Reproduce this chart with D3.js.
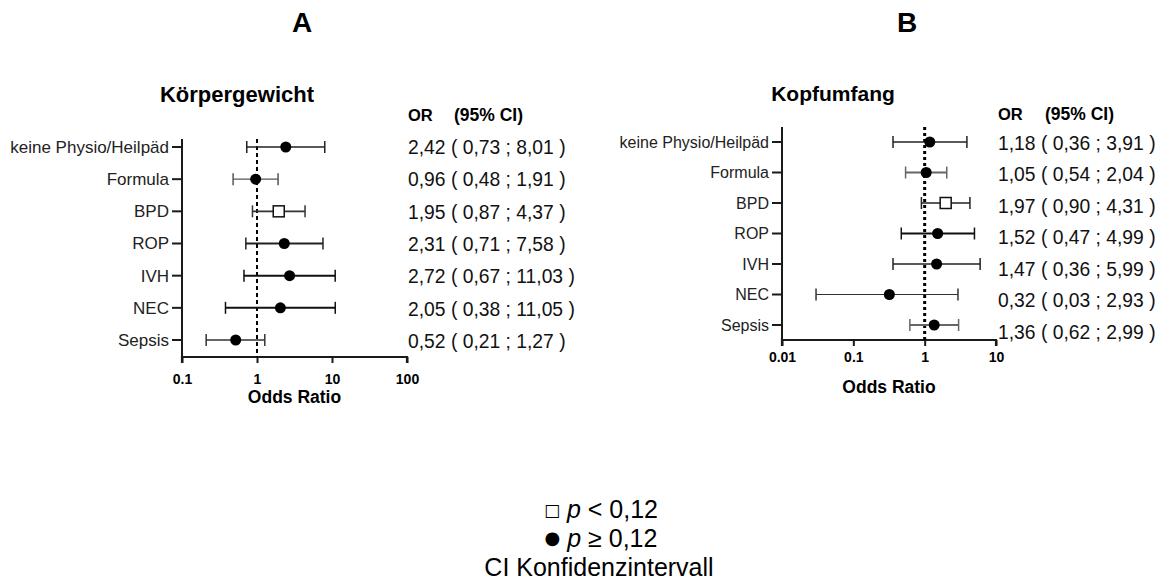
<!DOCTYPE html>
<html><head><meta charset="utf-8">
<script src="https://cdn.jsdelivr.net/npm/d3@7"></script>
<style>html,body{margin:0;padding:0;background:#fff;}svg{display:block;font-family:"Liberation Sans",Arial,sans-serif;}</style>
</head><body>
<svg id="c" width="1168" height="585"></svg>
<script>
const categories = ["keine Physio/Heilpäd","Formula","BPD","ROP","IVH","NEC","Sepsis"];
// Panel A: Körpergewicht
const orA  = [2.42,0.96,1.95,2.31,2.72,2.05,0.52];
const loA  = [0.73,0.48,0.87,0.71,0.67,0.38,0.21];
const hiA  = [8.01,1.91,4.37,7.58,11.03,11.05,1.27];
const sigA = [false,false,true,false,false,false,false];
// Panel B: Kopfumfang
const orB  = [1.18,1.05,1.97,1.52,1.47,0.32,1.36];
const loB  = [0.36,0.54,0.90,0.47,0.36,0.03,0.62];
const hiB  = [3.91,2.04,4.31,4.99,5.99,2.93,2.99];
const sigB = [false,false,true,false,false,false,false];
const ticksA = [0.1,1,10,100];
const ticksB = [0.01,0.1,1,10];
const tickLabelsA = ["0.1","1","10","100"];
const tickLabelsB = ["0.01","0.1","1","10"];

const fmt = v => v.toFixed(2).replace(".", ",");
const svg = d3.select("#c");

function panel(cfg){
  const g = svg.append("g");
  const x = d3.scaleLog().domain(cfg.dom).range([cfg.x0, cfg.x1]);
  const y = d3.scalePoint().domain(categories).range([cfg.yr0, cfg.yr1]);
  const yt = d3.scalePoint().domain(categories).range([cfg.ty0, cfg.ty1]);
  const stroke = "#1a1a1a";
  // title
  g.append("text").attr("x", cfg.titleX).attr("y", cfg.titleY).attr("text-anchor","middle")
    .attr("font-weight","bold").attr("font-size",cfg.titleSize).text(cfg.title);
  // y axis
  g.append("line").attr("x1",cfg.x0).attr("x2",cfg.x0).attr("y1",cfg.yTop).attr("y2",cfg.yAxis)
    .attr("stroke",stroke).attr("stroke-width",2);
  categories.forEach(c=>{
    g.append("line").attr("x1",cfg.x0-10).attr("x2",cfg.x0).attr("y1",y(c)).attr("y2",y(c))
      .attr("stroke",stroke).attr("stroke-width",2);
    g.append("text").attr("x",cfg.x0-13).attr("y",y(c)).attr("dy","0.35em").attr("text-anchor","end")
      .attr("font-size",cfg.labelSize).attr("fill","#222").text(c);
  });
  // x axis
  const xa = g.append("g").attr("transform",`translate(0,${cfg.yAxis})`)
    .call(d3.axisBottom(x).tickValues(cfg.ticks).tickSize(6).tickFormat((d,i)=>cfg.tickLabels[i]));
  xa.select(".domain").attr("stroke",stroke).attr("stroke-width",2.2).attr("d",`M${cfg.x0},6V0H${cfg.x1}V6`);
  xa.selectAll(".tick line").attr("stroke",stroke).attr("stroke-width",2);
  xa.selectAll(".tick text").attr("font-size",14).attr("font-weight","bold").attr("fill","#000")
    .attr("font-family",'"Liberation Sans",Arial,sans-serif').attr("dy",cfg.tickDy);
  g.append("text").attr("x",(cfg.x0+cfg.x1)/2).attr("y",cfg.xTitleY).attr("text-anchor","middle")
    .attr("font-weight","bold").attr("font-size",17.5).text("Odds Ratio");
  // reference line
  g.append("line").attr("x1",x(1)).attr("x2",x(1)).attr("y1",cfg.yTop).attr("y2",cfg.yAxis)
    .attr("stroke","#000").attr("stroke-width",cfg.refW).attr("stroke-dasharray",cfg.refDash);
  // CI
  categories.forEach((c,i)=>{
    const yy = y(c);
    const col = cfg.colors[i];
    g.append("line").attr("x1",x(cfg.lo[i])).attr("x2",x(cfg.hi[i])).attr("y1",yy).attr("y2",yy)
      .attr("stroke",col).attr("stroke-width",cfg.widths[i]);
    [cfg.lo[i],cfg.hi[i]].forEach(v=>{
      g.append("line").attr("x1",x(v)).attr("x2",x(v)).attr("y1",yy-6).attr("y2",yy+6)
        .attr("stroke",col).attr("stroke-width",1.5);
    });
    if(cfg.sig[i]){
      g.append("rect").attr("x",x(cfg.or[i])-5.5).attr("y",yy-5.5).attr("width",11).attr("height",11)
        .attr("fill","#fff").attr("stroke","#111").attr("stroke-width",1.5);
    } else {
      g.append("circle").attr("cx",x(cfg.or[i])).attr("cy",yy).attr("r",5.5).attr("fill","#000");
    }
  });
  // OR column
  g.append("text").attr("x",cfg.orX).attr("y",cfg.headY).attr("font-weight","bold").attr("font-size",16.5).text("OR");
  g.append("text").attr("x",cfg.ciX).attr("y",cfg.headY).attr("font-weight","bold").attr("font-size",17.5).text("(95% CI)");
  categories.forEach((c,i)=>{
    g.append("text").attr("x",cfg.orX).attr("y",yt(c)).attr("dy","0.36em").attr("font-size",19.3).attr("fill","#111")
      .text(`${fmt(cfg.or[i])} ( ${fmt(cfg.lo[i])} ; ${fmt(cfg.hi[i])} )`);
  });
  // panel letter
  g.append("text").attr("x",cfg.letterX).attr("y",32).attr("text-anchor","middle").attr("font-weight","bold")
    .attr("font-size",28).text(cfg.letter);
}

panel({letter:"A",letterX:302,title:"Körpergewicht",titleX:237,titleY:102,titleSize:22,
  dom:[0.1,100],x0:182,x1:407,yr0:147,yr1:340,ty0:147,ty1:341,yTop:139,yAxis:357,
  ticks:ticksA,tickLabels:tickLabelsA,tickDy:"1.25em",xTitleY:403,labelSize:17,
  refW:2,refDash:"4,3",or:orA,lo:loA,hi:hiA,sig:sigA,
  colors:["#222","#555","#333","#222","#111","#111","#333"],widths:[1.6,1.3,1.6,1.8,2,2,1.6],
  orX:408,ciX:454,headY:121});
panel({letter:"B",letterX:907,title:"Kopfumfang",titleX:833,titleY:101,titleSize:21,
  dom:[0.01,10],x0:782,x1:996,yr0:142,yr1:325,ty0:143,ty1:332,yTop:127,yAxis:340,
  ticks:ticksB,tickLabels:tickLabelsB,tickDy:"0.95em",xTitleY:393,labelSize:16,
  refW:3,refDash:"3,3",or:orB,lo:loB,hi:hiB,sig:sigB,
  colors:["#222","#666","#222","#111","#222","#333","#666"],widths:[1.3,1.8,1.3,1.8,1.6,1.2,1.8],
  orX:998,ciX:1045,headY:120});

// legend
const lg = svg.append("g").attr("font-size",25).attr("text-anchor","middle").attr("fill","#000");
const l1 = lg.append("text").attr("x",601).attr("y",518);
l1.append("tspan").attr("font-size",17).attr("font-family","DejaVu Sans").attr("dy",-2).text("□");
l1.append("tspan").attr("dy",2).text(" ");
l1.append("tspan").attr("font-style","italic").text("p");
l1.append("tspan").text(" < 0,12");
const l2 = lg.append("text").attr("x",601).attr("y",547);
l2.append("tspan").attr("font-size",18).attr("font-family","DejaVu Sans").attr("dy",-3).text("●");
l2.append("tspan").attr("dy",3).text(" ");
l2.append("tspan").attr("font-style","italic").text("p");
l2.append("tspan").text(" ≥ 0,12");
lg.append("text").attr("x",599).attr("y",576).text("CI Konfidenzintervall");
</script>
</body></html>
